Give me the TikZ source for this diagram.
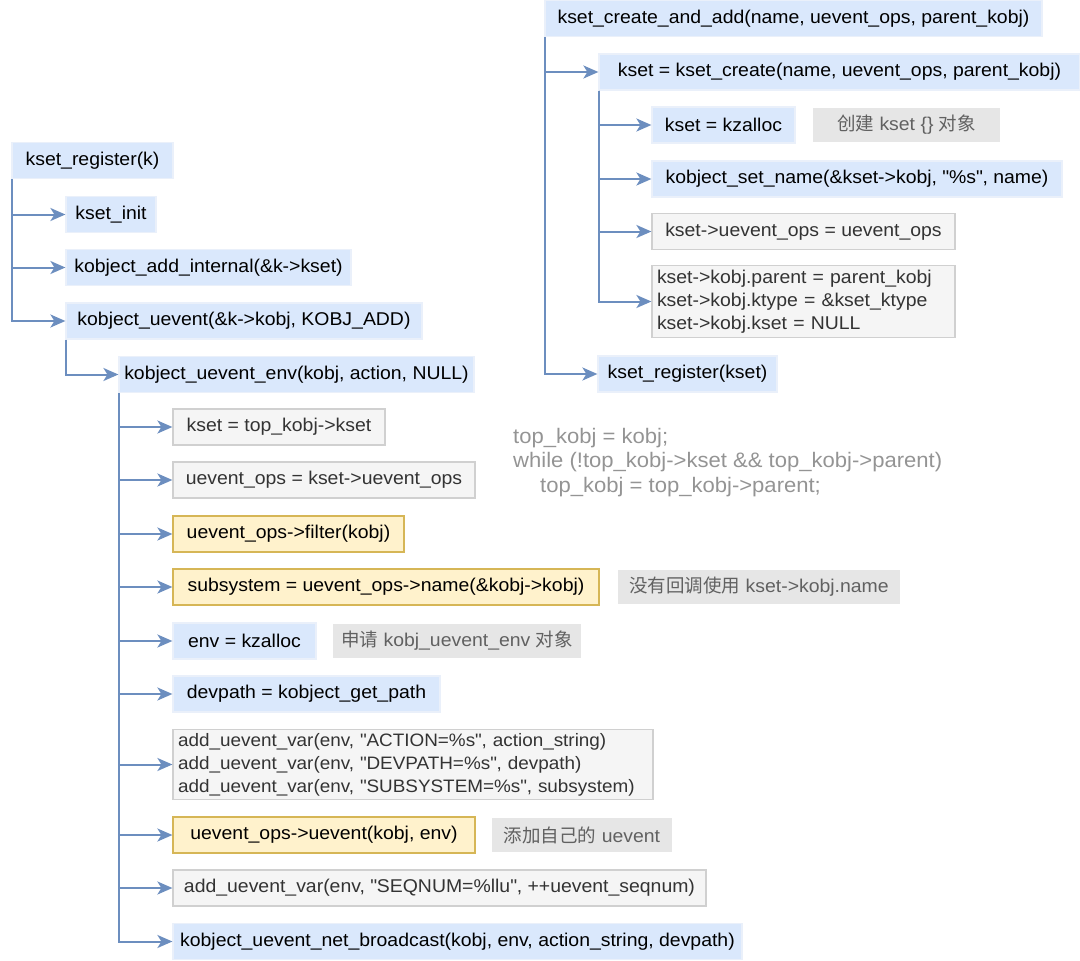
\documentclass[tikz,border=0pt]{standalone}
\usepackage{fontspec}
\setmainfont{Liberation Sans}[FakeStretch=1.05]
\newfontfamily\cjk{Noto Sans CJK SC}
\usepackage{tikz}
\usetikzlibrary{arrows.meta}

\definecolor{bluefill}{HTML}{DAE8FC}
\definecolor{blueline}{HTML}{6C8EBF}
\definecolor{grayfill}{HTML}{F5F5F5}
\definecolor{grayline}{HTML}{D0D0D0}
\definecolor{yellowfill}{HTML}{FFF2CC}
\definecolor{yellowline}{HTML}{D6B656}
\definecolor{notefill}{HTML}{E6E6E6}

\newcommand{\zh}[1]{{\fontsize{18.5pt}{22pt}\cjk #1}}
\newcommand{\qt}{\textquotedbl}

\tikzset{
  box/.style={minimum height=36pt, inner sep=0pt, line width=1.2pt,
    font=\fontsize{18.5pt}{23pt}\selectfont},
  bluebox/.style={box, fill=bluefill, draw=bluefill!85!blueline!40, text=black},
  graybox/.style={box, fill=grayfill, draw=grayline, text=black!80},
  yellowbox/.style={box, fill=yellowfill, draw=yellowline, text=black},
  notebox/.style={box, fill=notefill, text=black!62},
  multibox/.style={graybox, align=left, inner xsep=5pt, inner ysep=4pt},
  arr/.style={draw=blueline, line width=2pt,
    -{Stealth[length=15pt,width=13pt,inset=4pt]}},
}

\begin{document}
\begin{tikzpicture}[x=1pt,y=-1pt]
\useasboundingbox (0,0) rectangle (1080,961);

% kset_register
\node[bluebox, minimum width=161pt] (reg) at (92.5,160.5) {kset\_register(k)};
\node[bluebox, minimum width=90pt] (init) at (111,214.5) {kset\_init};
\node[bluebox, minimum width=285pt] (addint) at (208.5,267.5) {kobject\_add\_internal(\&k->kset)};
\node[bluebox, minimum width=356pt] (uev) at (244,321) {kobject\_uevent(\&k->kobj, KOBJ\_ADD)};
\node[bluebox, minimum width=355pt] (uenv) at (296.5,374.5) {kobject\_uevent\_env(kobj, action, NULL)};

\node[graybox, minimum width=212pt] (topk) at (279,427) {kset = top\_kobj->kset};
\node[graybox, minimum width=302pt] (ops) at (324,480) {uevent\_ops = kset->uevent\_ops};
\node[yellowbox, minimum width=231pt] (filt) at (288.5,534) {uevent\_ops->filter(kobj)};
\node[yellowbox, minimum width=426pt] (subs) at (386,587) {subsystem = uevent\_ops->name(\&kobj->kobj)};
\node[notebox, minimum width=282pt, minimum height=34pt] (nname) at (759,587) {\zh{没有回调使用} kset->kobj.name};
\node[bluebox, minimum width=143pt] (env) at (244.5,641) {env = kzalloc};
\node[notebox, minimum width=248pt, minimum height=34pt] (nenv) at (457,641) {\zh{申请} kobj\_uevent\_env \zh{对象}};
\node[bluebox, minimum width=267pt] (devp) at (306.5,694) {devpath = kobject\_get\_path};
\node[multibox, minimum width=480pt, text width=470pt, font=\fontsize{18pt}{23pt}\selectfont] (vars) at (413,764.5)
  {add\_uevent\_var(env, \qt ACTION=\%s\qt, action\_string)\\add\_uevent\_var(env, \qt DEVPATH=\%s\qt, devpath)\\add\_uevent\_var(env, \qt SUBSYSTEM=\%s\qt, subsystem)};
\node[yellowbox, minimum width=302pt] (uevt) at (324,835) {uevent\_ops->uevent(kobj, env)};
\node[notebox, minimum width=180pt, minimum height=34pt] (nuevt) at (582,835) {\zh{添加自己的} uevent};
\node[graybox, minimum width=533pt] (seq) at (439.5,888) {add\_uevent\_var(env, \qt SEQNUM=\%llu\qt, ++uevent\_seqnum)};
\node[bluebox, minimum width=569pt] (bcast) at (457.5,941.5) {kobject\_uevent\_net\_broadcast(kobj, env, action\_string, devpath)};

\node[anchor=north west, align=left, inner sep=0pt, text=black!42,
  font=\fontsize{21pt}{24.5pt}\selectfont] (loop) at (513,428)
  {top\_kobj = kobj;\\while (!top\_kobj->kset \&\& top\_kobj->parent)\\\hspace*{27pt}top\_kobj = top\_kobj->parent;};

% kset_create_and_add
\node[bluebox, minimum width=497pt] (cadd) at (793.5,18.5) {kset\_create\_and\_add(name, uevent\_ops, parent\_kobj)};
\node[bluebox, minimum width=481pt] (create) at (839.5,72) {kset = kset\_create(name, uevent\_ops, parent\_kobj)};
\node[bluebox, minimum width=143pt] (zal) at (723.5,125) {kset = kzalloc};
\node[notebox, minimum width=187pt, minimum height=34pt] (nzal) at (906.5,125) {\zh{创建} kset \{\} \zh{对象}};
\node[bluebox, minimum width=410pt] (sname) at (857,179) {kobject\_set\_name(\&kset->kobj, \qt\%s\qt, name)};
\node[graybox, minimum width=303pt] (sops) at (803.5,231.5) {kset->uevent\_ops = uevent\_ops};
\node[multibox, minimum width=303pt, text width=293pt] (sobj) at (803.5,301.5) {kset->kobj.parent = parent\_kobj\\kset->kobj.ktype = \&kset\_ktype\\kset->kobj.kset = NULL};
\node[bluebox, minimum width=179pt] (sreg) at (687.5,374) {kset\_register(kset)};

% connectors
\foreach \c in {init,addint,uev}
  \draw[arr] ([xshift=1pt]reg.south west) |- (\c.west);
\draw[arr] ([xshift=1pt]uev.south west) |- (uenv.west);
\foreach \c in {topk,ops,filt,subs,env,devp,vars,uevt,seq,bcast}
  \draw[arr] ([xshift=1pt]uenv.south west) |- (\c.west);
\foreach \c in {create,sreg}
  \draw[arr] ([xshift=1pt]cadd.south west) |- (\c.west);
\foreach \c in {zal,sname,sops,sobj}
  \draw[arr] ([xshift=1pt]create.south west) |- (\c.west);
\end{tikzpicture}
\end{document}
